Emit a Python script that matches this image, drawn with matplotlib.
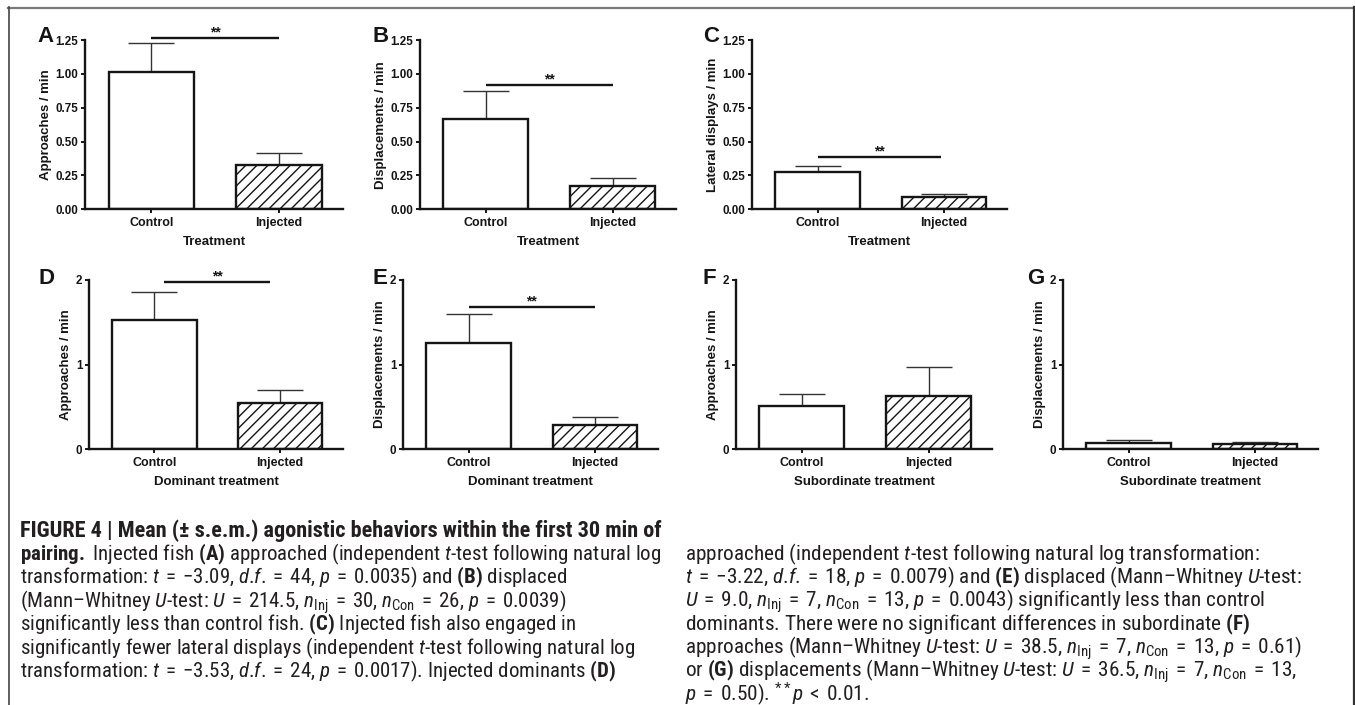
import matplotlib
matplotlib.use("Agg")
import matplotlib.pyplot as plt
import matplotlib.font_manager as fm
from matplotlib.lines import Line2D

W, H, DPI = 1355, 705, 100

# ---------------- data ----------------
categories = ["Control", "Injected"]
A_mean = [1.017, 0.330]; A_sem = [0.210, 0.088]
B_mean = [0.665, 0.172]; B_sem = [0.207, 0.059]
C_mean = [0.278, 0.093]; C_sem = [0.044, 0.022]
D_mean = [1.527, 0.540]; D_sem = [0.327, 0.155]
E_mean = [1.258, 0.284]; E_sem = [0.336, 0.098]
F_mean = [0.513, 0.631]; F_sem = [0.142, 0.339]
G_mean = [0.071, 0.059]; G_sem = [0.039, 0.027]

ylabels = ["Approaches / min", "Displacements / min", "Lateral displays / min",
           "Approaches / min", "Displacements / min", "Approaches / min",
           "Displacements / min"]
xlabels = ["Treatment", "Treatment", "Treatment", "Dominant treatment",
           "Dominant treatment", "Subordinate treatment", "Subordinate treatment"]
letters = ["A", "B", "C", "D", "E", "F", "G"]
top_ticks = [0.00, 0.25, 0.50, 0.75, 1.00, 1.25]
bottom_ticks = [0, 1, 2]
# significance bars: (y, x-start, x-end) or None
sig = [(1.263, 0.0, 1.0), (0.916, 0.0, 1.0), (0.389, 0.0, 0.98),
       (1.976, 0.08, 0.92), (1.677, 0.0, 1.0), None, None]

means = [A_mean, B_mean, C_mean, D_mean, E_mean, F_mean, G_mean]
sems = [A_sem, B_sem, C_sem, D_sem, E_sem, F_sem, G_sem]

MINUS = "\u2212"
NDASH = "\u2013"
DF = r"$d$.$f$."
cap_left = [
    "FIGURE 4 | Mean (\u00b1 s.e.m.) agonistic behaviors within the first 30 min of",
    r"$\mathbf{pairing.}$ Injected fish $\mathbf{(A)}$ approached (independent $t$-test following natural log",
    r"transformation: $t$ = " + MINUS + "3.09, " + DF + r" = 44, $p$ = 0.0035) and $\mathbf{(B)}$ displaced",
    "(Mann" + NDASH + r"Whitney $U$-test: $U$ = 214.5, $n_{\mathrm{Inj}}$ = 30, $n_{\mathrm{Con}}$ = 26, $p$ = 0.0039)",
    r"significantly less than control fish. $\mathbf{(C)}$ Injected fish also engaged in",
    r"significantly fewer lateral displays (independent $t$-test following natural log",
    r"transformation: $t$ = " + MINUS + "3.53, " + DF + r" = 24, $p$ = 0.0017). Injected dominants $\mathbf{(D)}$",
]
cap_right = [
    r"approached (independent $t$-test following natural log transformation:",
    r"$t$ = " + MINUS + "3.22, " + DF + r" = 18, $p$ = 0.0079) and $\mathbf{(E)}$ displaced (Mann" + NDASH + r"Whitney $U$-test:",
    r"$U$ = 9.0, $n_{\mathrm{Inj}}$ = 7, $n_{\mathrm{Con}}$ = 13, $p$ = 0.0043) significantly less than control",
    r"dominants. There were no significant differences in subordinate $\mathbf{(F)}$",
    "approaches (Mann" + NDASH + r"Whitney $U$-test: $U$ = 38.5, $n_{\mathrm{Inj}}$ = 7, $n_{\mathrm{Con}}$ = 13, $p$ = 0.61)",
    r"or $\mathbf{(G)}$ displacements (Mann" + NDASH + r"Whitney $U$-test: $U$ = 36.5, $n_{\mathrm{Inj}}$ = 7, $n_{\mathrm{Con}}$ = 13,",
    r"$p$ = 0.50). $^{**}p$ < 0.01.",
]

# ---------------- fonts ----------------
names = {f.name for f in fm.fontManager.ttflist}
chart_font = "Liberation Sans" if "Liberation Sans" in names else "DejaVu Sans"
cap_font = chart_font
for cand in ["Liberation Sans Narrow", "Roboto Condensed", "Open Sans Condensed",
             "Noto Sans Condensed", "DejaVu Sans Condensed"]:
    if cand in names:
        cap_font = cand
        break

plt.rcParams["font.family"] = [chart_font, "DejaVu Sans"]
plt.rcParams["mathtext.fontset"] = "custom"
plt.rcParams["mathtext.rm"] = cap_font
plt.rcParams["mathtext.it"] = cap_font + ":italic"
plt.rcParams["mathtext.bf"] = cap_font + ":bold"
plt.rcParams["hatch.linewidth"] = 1.0

fig = plt.figure(figsize=(W / DPI, H / DPI), dpi=DPI)
fig.patch.set_facecolor("white")

# axes boxes in pixels: x0, x1, ytop, ybottom
boxes = [(85, 343, 40, 209.3), (420, 676, 40, 209.3), (752, 1007, 40, 209.3),
         (89, 343, 280, 449), (403, 658, 280, 449), (736, 992, 280, 449),
         (1063, 1318, 280, 449)]
letter_pos = [(37, 37), (372, 37), (703, 37), (38, 278), (372, 278), (703, 278), (1027, 278)]

INK = "#151515"
x = [0, 1]
for i in range(7):
    x0, x1, yt, yb = boxes[i]
    ax = fig.add_axes([x0 / W, 1 - yb / H, (x1 - x0) / W, (yb - yt) / H])
    ax.set_facecolor("none")
    m, s = means[i], sems[i]
    ax.errorbar(x, m, yerr=[[0, 0], s], fmt="none", ecolor="#333333",
                elinewidth=1.0, capsize=16.5, capthick=1.0, zorder=1)
    bars = ax.bar(x, m, width=0.67, color="white", edgecolor=INK, linewidth=1.7, zorder=2)
    bars[1].set_hatch("///")
    ax.set_xlim(-0.52, 1.5)
    if i < 3:
        ax.set_ylim(0, 1.25)
        ax.set_yticks(top_ticks)
        ax.set_yticklabels(["%.2f" % v for v in top_ticks])
    else:
        ax.set_ylim(0, 2)
        ax.set_yticks(bottom_ticks)
        ax.set_yticklabels([str(v) for v in bottom_ticks])
    ax.set_xticks(x)
    ax.set_xticklabels(categories)
    for side in ["top", "right"]:
        ax.spines[side].set_visible(False)
    for side in ["left", "bottom"]:
        ax.spines[side].set_linewidth(1.7)
        ax.spines[side].set_color(INK)
    ax.tick_params(axis="both", direction="out", length=3.2, width=1.4, color=INK,
                   pad=1.5, labelcolor=INK)
    ax.tick_params(axis="y", labelsize=8.4)
    ax.tick_params(axis="x", labelsize=9, pad=2.5)
    for lab in ax.get_xticklabels() + ax.get_yticklabels():
        lab.set_fontweight("bold")
    ax.set_ylabel(ylabels[i], fontsize=9.5, fontweight="bold", color=INK, labelpad=3)
    ax.set_xlabel(xlabels[i], fontsize=9.5, fontweight="bold", color=INK, labelpad=5)
    if sig[i] is not None:
        yy, xa, xb = sig[i]
        ax.plot([xa, xb], [yy, yy], color=INK, lw=1.7, clip_on=False, solid_capstyle="butt")
        ax.annotate("**", xy=((xa + xb) / 2, yy), xytext=(0, -1.0), textcoords="offset points",
                    ha="center", va="bottom", fontsize=10, fontweight="bold", color=INK,
                    annotation_clip=False)
    lx, ly = letter_pos[i]
    fig.text(lx / W, 1 - ly / H, letters[i], fontsize=16, fontweight="bold",
             ha="left", va="center", color=INK)

# ---------------- frame ----------------
fig.add_artist(Line2D([8 / W, 1354 / W], [1 - 7.5 / H, 1 - 7.5 / H], transform=fig.transFigure,
                      color="#7a7a7a", lw=1.6))
fig.add_artist(Line2D([8.5 / W, 8.5 / W], [0, 1 - 7 / H], transform=fig.transFigure,
                      color="#444444", lw=1.2))
fig.add_artist(Line2D([1354 / W, 1354 / W], [0, 1 - 7 / H], transform=fig.transFigure,
                      color="#333333", lw=1.6))


# ---------------- caption ----------------
def widen(s):
    return s.replace(" = ", " \u200a=\u200a ").replace(" < ", " \u200a<\u200a ")


CAP = "#231f20"
left_texts, right_texts = [], []
for j, line in enumerate(cap_left):
    t = fig.text(20 / W, 1 - (537 + 23.4 * j) / H, widen(line), ha="left", va="baseline",
                 family=[cap_font, "DejaVu Sans"], color=CAP, fontsize=12,
                 fontweight="bold" if j == 0 else "normal")
    left_texts.append(t)
for j, line in enumerate(cap_right):
    t = fig.text(685 / W, 1 - (560 + 23.4 * j) / H, widen(line), ha="left", va="baseline",
                 family=[cap_font, "DejaVu Sans"], color=CAP, fontsize=12)
    right_texts.append(t)

fig.canvas.draw()
r = fig.canvas.get_renderer()
scale_left = 642.0 / left_texts[1].get_window_extent(r).width
scale_bold = 645.0 / left_texts[0].get_window_extent(r).width
scale_right = 565.0 / right_texts[3].get_window_extent(r).width
for k, t in enumerate(left_texts):
    t.set_fontsize(12 * (scale_bold if k == 0 else scale_left))
for t in right_texts:
    t.set_fontsize(12 * scale_right)

fig.savefig("out.png", dpi=DPI, facecolor="white")
